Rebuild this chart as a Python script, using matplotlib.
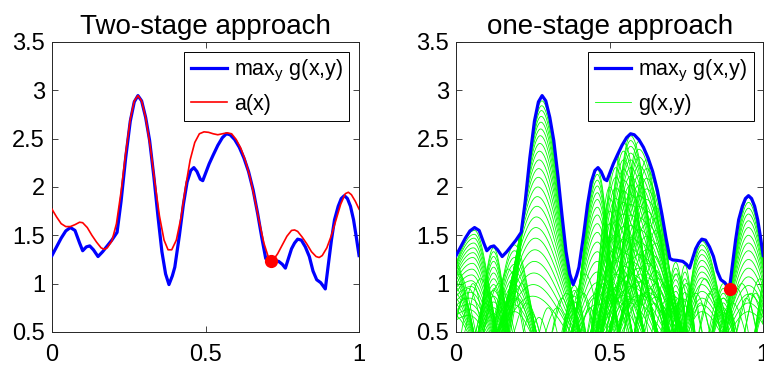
import numpy as np
import matplotlib
matplotlib.use("Agg")
from matplotlib import pyplot as plt

plt.rcParams["font.family"] = ["Liberation Sans", "DejaVu Sans"]
plt.rcParams["mathtext.fontset"] = "custom"
plt.rcParams["mathtext.rm"] = "Liberation Sans"
plt.rcParams["mathtext.it"] = "Liberation Sans"

# max_y g(x,y)
x_max = [0.000, 0.015, 0.030, 0.045, 0.060, 0.075, 0.090, 0.100, 0.112, 0.123,
         0.135, 0.150, 0.165, 0.180, 0.195, 0.212, 0.225, 0.240, 0.255, 0.268,
         0.280, 0.292, 0.305, 0.318, 0.332, 0.345, 0.358, 0.370, 0.381, 0.392,
         0.400, 0.415, 0.428, 0.440, 0.452, 0.462, 0.472, 0.483, 0.491, 0.500,
         0.512, 0.525, 0.540, 0.555, 0.568, 0.580, 0.595, 0.610, 0.625, 0.640,
         0.655, 0.670, 0.683, 0.696, 0.705, 0.720, 0.738, 0.750, 0.760, 0.770,
         0.780, 0.790, 0.800, 0.812, 0.825, 0.838, 0.850, 0.862, 0.875, 0.890,
         0.900, 0.910, 0.920, 0.932, 0.942, 0.952, 0.962, 0.972, 0.982, 0.990,
         1.000]
y_max = [1.29, 1.38, 1.47, 1.545, 1.58, 1.55, 1.42, 1.34, 1.38, 1.39,
         1.35, 1.28, 1.33, 1.39, 1.45, 1.53, 1.85, 2.30, 2.68, 2.88,
         2.945, 2.89, 2.72, 2.48, 2.10, 1.70, 1.33, 1.10, 0.99, 1.08,
         1.17, 1.50, 1.82, 2.05, 2.17, 2.20, 2.16, 2.08, 2.065, 2.14,
         2.24, 2.33, 2.43, 2.51, 2.55, 2.54, 2.49, 2.41, 2.30, 2.16,
         1.97, 1.72, 1.48, 1.26, 1.245, 1.24, 1.23, 1.20, 1.16, 1.26,
         1.36, 1.42, 1.46, 1.45, 1.38, 1.28, 1.13, 1.04, 1.01, 0.945,
         1.20, 1.45, 1.66, 1.80, 1.88, 1.91, 1.88, 1.80, 1.66, 1.50,
         1.29]

# a(x)
x_a = [0.000, 0.015, 0.030, 0.045, 0.060, 0.075, 0.090, 0.100, 0.115, 0.130,
       0.145, 0.160, 0.170, 0.180, 0.195, 0.210, 0.225, 0.240, 0.255, 0.268,
       0.280, 0.292, 0.305, 0.320, 0.335, 0.350, 0.365, 0.378, 0.390, 0.405,
       0.420, 0.435, 0.450, 0.465, 0.480, 0.495, 0.510, 0.525, 0.540, 0.555,
       0.570, 0.585, 0.600, 0.615, 0.630, 0.645, 0.660, 0.675, 0.690, 0.705,
       0.712, 0.722, 0.735, 0.750, 0.765, 0.780, 0.790, 0.800, 0.815, 0.830,
       0.845, 0.860, 0.870, 0.880, 0.895, 0.910, 0.925, 0.940, 0.955, 0.965,
       0.975, 0.988, 1.000]
y_a = [1.77, 1.69, 1.62, 1.59, 1.59, 1.61, 1.635, 1.63, 1.58, 1.50,
       1.43, 1.37, 1.355, 1.37, 1.44, 1.62, 1.95, 2.35, 2.70, 2.89,
       2.945, 2.89, 2.72, 2.42, 2.05, 1.70, 1.45, 1.35, 1.35, 1.45,
       1.68, 2.00, 2.28, 2.46, 2.55, 2.57, 2.565, 2.55, 2.54, 2.55,
       2.56, 2.55, 2.49, 2.40, 2.27, 2.10, 1.88, 1.64, 1.42, 1.27,
       1.235, 1.25, 1.31, 1.40, 1.49, 1.55, 1.555, 1.54, 1.48, 1.41,
       1.33, 1.28, 1.27, 1.29, 1.37, 1.50, 1.66, 1.82, 1.93, 1.945,
       1.92, 1.85, 1.77]

# marked minimisers
pt_two = (0.712, 1.235)
pt_one = (0.891, 0.945)

# g(x,y) arches: family centre, centre drift per unit drop, left/right width
# of the top curve, and the peak heights of the nested curves in each family
fam_c = [-0.01, 0.06, 0.122, 0.19, 0.28, 0.385, 0.46, 0.50,
         0.52, 0.545, 0.568, 0.595, 0.62, 0.65, 0.715, 0.745, 0.80, 0.87,
         0.952, 1.02]
fam_drift = [0.0, -0.02, 0.0, 0.0, -0.015, 0.0, 0.0, 0.0,
             0.0, 0.0, 0.0, 0.0, 0.0, 0.0, 0.0, 0.0, 0.0, 0.0,
             0.0, 0.0]
fam_sl = [0.07, 0.12, 0.05, 0.07, 0.08, 0.045, 0.065, 0.05,
          0.06, 0.065, 0.07, 0.07, 0.07, 0.06, 0.04, 0.035, 0.06, 0.045,
          0.07, 0.05]
fam_sr = [0.07, 0.07, 0.05, 0.07, 0.088, 0.045, 0.055, 0.06,
          0.07, 0.08, 0.09, 0.10, 0.09, 0.05, 0.04, 0.035, 0.08, 0.045,
          0.075, 0.05]
fam_h = [
    [1.27, 1.22, 1.16, 1.10, 1.04, 0.98, 0.92, 0.86, 0.80, 0.74, 0.68],
    [1.55, 1.51, 1.47, 1.42, 1.37, 1.32, 1.27, 1.21, 1.15, 1.09, 1.03, 0.97,
     0.91, 0.85, 0.79, 0.73, 0.67],
    [1.37, 1.33, 1.28, 1.23, 1.17, 1.11, 1.05, 0.99, 0.93, 0.87, 0.81, 0.75, 0.69],
    [1.40, 1.34, 1.27, 1.20, 1.13, 1.06, 0.99, 0.92, 0.85, 0.78, 0.71],
    [2.93, 2.89, 2.84, 2.79, 2.73, 2.67, 2.60, 2.53, 2.45, 2.37, 2.28, 2.19,
     2.10, 2.00, 1.90, 1.80, 1.69, 1.58, 1.47, 1.35, 1.23, 1.11, 0.99, 0.87],
    [0.98, 0.93, 0.87, 0.81, 0.75, 0.69],
    [2.18, 2.13, 2.07, 2.01, 1.94, 1.87, 1.79, 1.71, 1.62, 1.53, 1.43, 1.33,
     1.23, 1.12, 1.01, 0.90, 0.79],
    [2.00, 1.88, 1.75, 1.62, 1.48, 1.34, 1.19, 1.04, 0.89],
    [2.30, 2.20, 2.10, 1.99, 1.88, 1.76, 1.64, 1.51, 1.38, 1.24, 1.10, 0.96, 0.82],
    [2.46, 2.37, 2.28, 2.18, 2.07, 1.96, 1.84, 1.72, 1.59, 1.46, 1.32, 1.18,
     1.03, 0.88],
    [2.53, 2.48, 2.42, 2.35, 2.28, 2.20, 2.11, 2.02, 1.92, 1.82, 1.71, 1.60,
     1.48, 1.36, 1.23, 1.10, 0.97, 0.84],
    [2.47, 2.39, 2.31, 2.22, 2.12, 2.02, 1.91, 1.80, 1.68, 1.56, 1.43, 1.30,
     1.16, 1.02, 0.88],
    [2.28, 2.19, 2.09, 1.98, 1.87, 1.75, 1.62, 1.49, 1.35, 1.21, 1.06, 0.91],
    [1.80, 1.68, 1.55, 1.42, 1.28, 1.14, 1.00, 0.86],
    [1.22, 1.16, 1.10, 1.04, 0.98, 0.92, 0.86, 0.80, 0.74],
    [1.19, 1.12, 1.05, 0.98, 0.91, 0.84, 0.77],
    [1.44, 1.40, 1.35, 1.30, 1.24, 1.18, 1.12, 1.06, 0.99, 0.92, 0.85, 0.78, 0.71],
    [1.00, 0.95, 0.90, 0.85, 0.80, 0.75, 0.70],
    [1.89, 1.84, 1.78, 1.72, 1.65, 1.58, 1.50, 1.42, 1.34, 1.25, 1.16, 1.07,
     0.98, 0.89, 0.80, 0.71],
    [1.25, 1.18, 1.11, 1.04, 0.97, 0.90, 0.83],
]
# lower curves of a family are wider: relative width gain per unit drop
width_gain = 0.35

# small arches near the bottom of the right panel (two widths)
low_c = [0.01, 0.04, 0.08, 0.11, 0.14, 0.17, 0.20, 0.23, 0.33, 0.36,
         0.40, 0.42, 0.45, 0.48, 0.51, 0.54, 0.57, 0.60, 0.63, 0.66,
         0.69, 0.72, 0.75, 0.78, 0.81, 0.84, 0.87, 0.90, 0.93, 0.96, 0.99]
low_h = [1.10, 0.95, 1.05, 0.90, 1.00, 1.15, 0.85, 0.80, 0.75, 0.90,
         0.95, 1.10, 0.85, 1.00, 0.90, 1.05, 0.80, 1.10, 0.95, 1.05,
         0.85, 1.10, 1.00, 0.90, 1.05, 0.95, 0.85, 0.80, 1.00, 0.90, 1.05]
low2_c = [0.025, 0.055, 0.095, 0.125, 0.155, 0.185, 0.215, 0.245, 0.27, 0.30,
          0.345, 0.375, 0.415, 0.435, 0.465, 0.495, 0.525, 0.555, 0.585, 0.615,
          0.645, 0.675, 0.705, 0.735, 0.765, 0.795, 0.825, 0.855, 0.885, 0.915,
          0.945, 0.975]
low2_h = [0.85, 1.00, 0.80, 0.95, 0.75, 0.90, 1.00, 0.70, 0.65, 0.75,
          0.85, 0.80, 0.90, 0.75, 1.00, 0.85, 0.95, 0.80, 1.05, 0.90,
          0.80, 1.00, 0.90, 0.85, 0.95, 0.80, 0.90, 0.85, 0.75, 0.95,
          0.85, 0.90]

blue = (0, 0, 1)
red = (1, 0, 0)
green = (0, 1, 0)
lbl_max = r"max$_{\mathrm{y}}$ g(x,y)"

fig = plt.figure(figsize=(7.64, 3.68), dpi=100)
ax1 = fig.add_axes([0.068, 0.098, 0.402, 0.788])
ax2 = fig.add_axes([0.597, 0.098, 0.402, 0.788])

# left panel
ax1.plot(x_max, y_max, color=blue, lw=2.3, label=lbl_max, zorder=3)
ax1.plot(x_a, y_a, color=red, lw=1.2, label="a(x)", zorder=4)
ax1.plot(*pt_two, "o", color=red, ms=8.5, zorder=5)
ax1.set_title("Two-stage approach", fontsize=20, pad=6)

# right panel: family of g(x,y) curves, kept under the max_y envelope
xs = np.linspace(0, 1, 600)
env = np.interp(xs, x_max, y_max)
green_kw = dict(color=green, lw=0.6, zorder=2)


def arch(c, h, sl, sr):
    s = np.where(xs < c, sl, sr)
    return np.minimum(h * np.exp(-((xs - c) / s) ** 2), env)


ax2.plot(x_max, y_max, color=blue, lw=2.3, label=lbl_max, zorder=3)
first = True
for c0, dr, sl, sr, hs in zip(fam_c, fam_drift, fam_sl, fam_sr, fam_h):
    for h in hs:
        drop = hs[0] - h
        g = 1 + width_gain * drop
        ax2.plot(xs, arch(c0 + dr * drop, h, sl * g, sr * g),
                 label="g(x,y)" if first else None, **green_kw)
        first = False
for c, h in zip(low_c, low_h):
    ax2.plot(xs, arch(c, h, 0.06, 0.06), **green_kw)
for c, h in zip(low2_c, low2_h):
    ax2.plot(xs, arch(c, h, 0.045, 0.045), **green_kw)
ax2.plot(*pt_one, "o", color=red, ms=8.5, zorder=5)
ax2.set_title("one-stage approach", fontsize=20, pad=6)

for ax in (ax1, ax2):
    ax.set_xlim(0, 1)
    ax.set_ylim(0.5, 3.5)
    ax.set_xticks([0, 0.5, 1])
    ax.set_xticklabels(["0", "0.5", "1"])
    ax.set_yticks([0.5, 1, 1.5, 2, 2.5, 3, 3.5])
    ax.set_yticklabels(["0.5", "1", "1.5", "2", "2.5", "3", "3.5"])
    ax.tick_params(axis="both", which="major", direction="in", length=4,
                   width=0.6, top=True, right=True, labelsize=17,
                   colors="0.15", labelcolor="black")
    ax.tick_params(axis="x", pad=9)
    ax.tick_params(axis="y", pad=5)
    for sp in ax.spines.values():
        sp.set_color("0.15")
        sp.set_linewidth(0.7)
    leg = ax.legend(loc="upper right", fontsize=15.5, fancybox=False,
                    framealpha=1, edgecolor="black", borderaxespad=0.45,
                    handlelength=1.7, handletextpad=0.3, labelspacing=0.45,
                    borderpad=0.3)
    leg.get_frame().set_linewidth(0.7)
    leg.set_zorder(10)

fig.savefig("out.png", dpi=100)
